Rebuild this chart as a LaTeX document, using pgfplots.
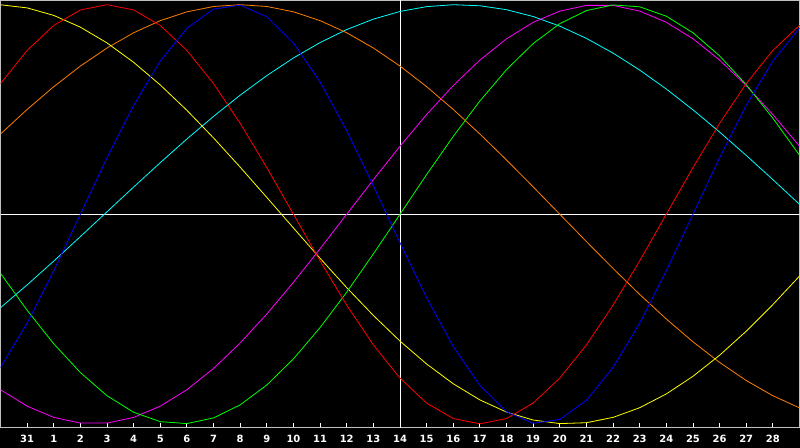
\documentclass[border=0pt]{standalone}
\usepackage{fontspec}
\setmainfont{Liberation Sans}
\newfontfamily\labfont{DejaVu Sans}
\usepackage{pgfplots}
\usepackage{pgfplotstable}
\pgfplotsset{compat=1.18}
\definecolor{bgray}{RGB}{192,192,192}
\definecolor{borange}{RGB}{255,128,0}
\definecolor{bred}{RGB}{255,0,0}
\definecolor{bblue}{RGB}{0,0,255}
\definecolor{bgreen}{RGB}{0,255,0}
\definecolor{byellow}{RGB}{255,255,0}
\definecolor{bcyan}{RGB}{0,255,255}
\definecolor{bmagenta}{RGB}{255,0,255}
\pgfplotstableread{
d  red     blue    green   yellow  magenta orange  cyan
-1  0.6235 -0.7310 -0.2817  0.9996 -0.8372  0.3827 -0.4460
0   0.7818 -0.5196 -0.4582  0.9847 -0.9158  0.5000 -0.3371
1   0.9010 -0.2698 -0.6182  0.9488 -0.9694  0.6088 -0.2234
2   0.9749  0.0000 -0.7557  0.8927 -0.9966  0.7071 -0.1065
3   1.0000  0.2698 -0.8660  0.8175 -0.9966  0.7934  0.0118
4   0.9749  0.5196 -0.9450  0.7249 -0.9694  0.8660  0.1300
5   0.9010  0.7310 -0.9898  0.6168 -0.9158  0.9239  0.2463
6   0.7818  0.8879 -0.9989  0.4958 -0.8372  0.9659  0.3593
7   0.6235  0.9791 -0.9718  0.3641 -0.7357  0.9914  0.4672
8   0.4339  0.9977 -0.9096  0.2246 -0.6142  1.0000  0.5685
9   0.2225  0.9423 -0.8146  0.0803 -0.4759  0.9914  0.6616
10  0.0000  0.8169 -0.6901 -0.0657 -0.3247  0.9659  0.7458
11 -0.2225  0.6311 -0.5406 -0.2103 -0.1646  0.9239  0.8193
12 -0.4339  0.3984 -0.3717 -0.3504  0.0000  0.8660  0.8814
13 -0.6235  0.1362 -0.1893 -0.4829  0.1646  0.7934  0.9311
14 -0.7818 -0.1362  0.0000 -0.6052  0.3247  0.7071  0.9677
15 -0.9010 -0.3984  0.1893 -0.7146  0.4759  0.6088  0.9907
16 -0.9749 -0.6311  0.3717 -0.8090  0.6142  0.5000  0.9998
17 -1.0000 -0.8169  0.5406 -0.8860  0.7357  0.3827  0.9949
18 -0.9749 -0.9423  0.6901 -0.9441  0.8372  0.2588  0.9760
19 -0.9010 -0.9977  0.8146 -0.9820  0.9158  0.1305  0.9435
20 -0.7818 -0.9791  0.9096 -0.9990  0.9694  0.0000  0.8976
21 -0.6235 -0.8879  0.9718 -0.9948  0.9966 -0.1305  0.8392
22 -0.4339 -0.7310  0.9989 -0.9693  0.9966 -0.2588  0.7689
23 -0.2225 -0.5196  0.9898 -0.9232  0.9694 -0.3827  0.6880
24  0.0000 -0.2698  0.9450 -0.8574  0.9158 -0.5000  0.5974
25  0.2225  0.0000  0.8660 -0.7733  0.8372 -0.6088  0.4983
26  0.4339  0.2698  0.7557 -0.6728  0.7357 -0.7071  0.3922
27  0.6235  0.5196  0.6182 -0.5581  0.6142 -0.7934  0.2806
28  0.7818  0.7310  0.4582 -0.4310  0.4759 -0.8660  0.1652
29  0.9010  0.8879  0.2817 -0.2950  0.3247 -0.9239  0.0474
}\bio
\begin{document}
\begin{tikzpicture}
\fill[black] (0,0) rectangle (800bp,448bp);
\useasboundingbox (0,0) rectangle (800bp,448bp);
\begin{axis}[
  at={(0.5bp,447.5bp)}, anchor=north west,
  scale only axis, width=799bp, height=427.5bp,
  xmin=-1, xmax=29, ymin=-1.02, ymax=1.02,
  axis background/.style={fill=black},
  axis line style={draw=bgray, line width=1bp},
  xtick={0,...,28},
  xticklabels={31,1,2,3,4,5,6,7,8,9,10,11,12,13,14,15,16,17,18,19,20,21,22,23,24,25,26,27,28},
  xtick pos=bottom, tick align=inside,
  major tick length=5bp,
  x tick style={draw=white, line width=0.9bp},
  ytick=\empty,
  x tick label style={font=\labfont\fontsize{10}{12}\selectfont\bfseries, text=white, yshift=-4bp},
  every axis plot/.append style={line width=0.8bp, mark=none},
  clip=true,
]
\draw[white, line width=1bp] (axis cs:-1,0) -- (axis cs:29,0);
\draw[white, line width=1bp] (axis cs:14,-1.02) -- (axis cs:14,1.02);
\addplot[bcyan] table[x=d, y=cyan] {\bio};
\addplot[borange] table[x=d, y=orange] {\bio};
\addplot[byellow] table[x=d, y=yellow] {\bio};
\addplot[bmagenta] table[x=d, y=magenta] {\bio};
\addplot[bgreen] table[x=d, y=green] {\bio};
\addplot[bred] table[x=d, y=red] {\bio};
\addplot[bblue] table[x=d, y=blue] {\bio};
\end{axis}
\end{tikzpicture}
\end{document}
